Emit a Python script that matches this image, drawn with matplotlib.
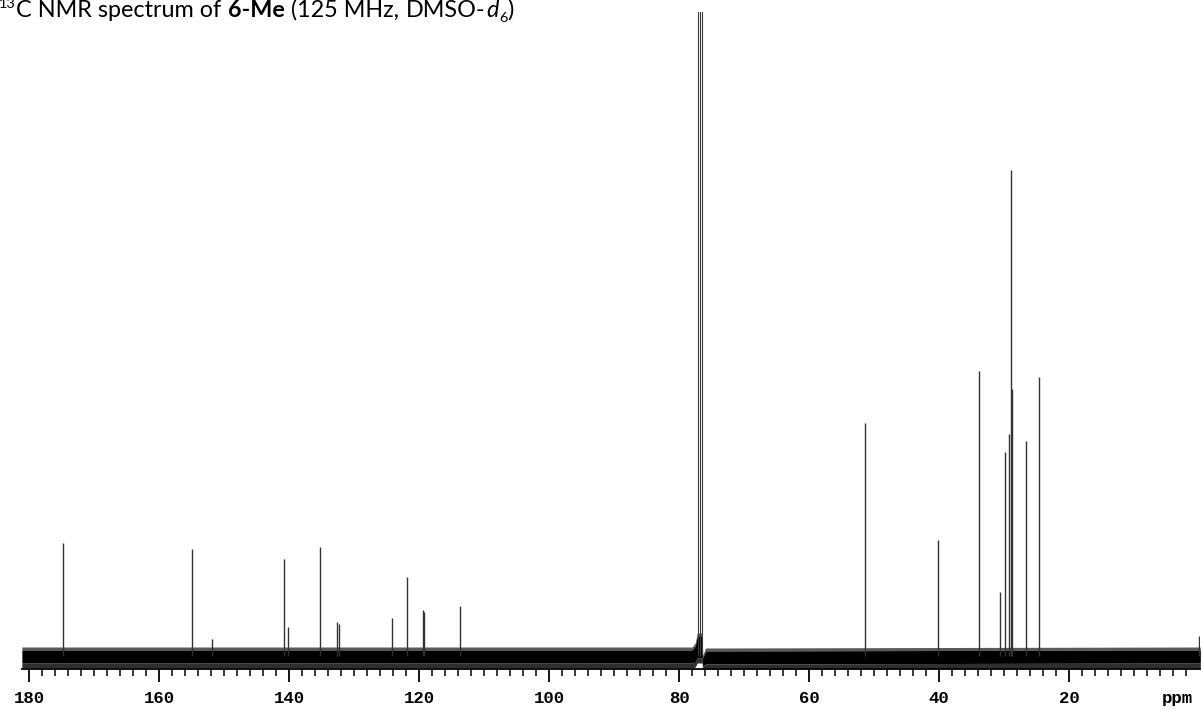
import matplotlib
matplotlib.use("Agg")
import matplotlib.pyplot as plt
import numpy as np

# ---------------- data ----------------
peak_ppm = [174.8, 154.9, 151.8, 140.8, 140.2, 135.2, 132.6, 132.3, 124.2,
            121.8, 119.4, 119.2, 113.7, 51.4, 40.2, 33.8, 30.6, 29.8, 29.3,
            29.0, 28.8, 26.6, 24.6, 0.0]
peak_height = [113, 107, 17, 97, 29, 109, 34, 32, 38,
               79, 46, 44, 50, 233, 116, 285, 64, 204, 222,
               486, 267, 215, 279, 20]
solvent_ppm = [77.1, 76.8, 76.5]
solvent_height = [1000, 1000, 1000]

# noise band envelope of the baseline
band_ppm = [181.1, 78.0, 77.5, 77.2, 76.45, 76.35, 75.9, -0.2]
band_hi = [6, 6, 10, 20, 20, -2, 5, 6]
band_lo = [-7, -7, -6, -2, -2, -10, -8, -7]

major_ticks = [180, 160, 140, 120, 100, 80, 60, 40, 20]
major_labels = ["180", "160", "140", "120", "100", "80", "60", "40", "20"]
minor_ticks = [v for v in range(2, 180, 2) if v % 20 != 0]

title_parts = [("13", "sup"), ("C NMR spectrum of", "normal"), (" ", "space"),
               ("6-Me", "bold"), (" ", "space"), ("(125 MHz,", "normal"),
               (" ", "space"), ("DMSO-", "normal"), ("d", "italic"),
               ("6", "sub"), (")", "normal")]

# ---------------- figure ----------------
W, H = 1203, 711
fig = plt.figure(figsize=(W / 100, H / 100), dpi=100)
fig.patch.set_facecolor("white")
ax = fig.add_axes([22 / W, 42 / H, (1200 - 22) / W, (669 - 12) / H])

ax.set_xlim(181.08, -0.15)
ax.set_ylim(-13, 644)

# baseline noise band
ax.fill_between(band_ppm, [v - 5 for v in band_lo], band_lo, color="#2e2e2e", lw=0)
ax.fill_between(band_ppm, band_hi, [v + 3 for v in band_hi], color="#5a5a5a", lw=0)
ax.fill_between(band_ppm, band_lo, band_hi, color="black", lw=0)

# peaks
ax.vlines(peak_ppm, 0, peak_height, color="#333333", lw=1.0)
ax.vlines(solvent_ppm, 0, solvent_height, color="#3a3a3a", lw=0.8)

for s in ["top", "left", "right"]:
    ax.spines[s].set_visible(False)
ax.spines["bottom"].set_linewidth(1.3)
ax.set_yticks([])
ax.set_xticks(major_ticks)
ax.set_xticklabels(major_labels)
ax.set_xticks(minor_ticks, minor=True)
ax.tick_params(axis="x", which="major", direction="out", length=9.5, width=1.3,
               pad=6.5, labelsize=12.5)
ax.tick_params(axis="x", which="minor", direction="out", length=5, width=1.1)
for lab in ax.get_xticklabels():
    lab.set_fontfamily("Liberation Mono")
    lab.set_fontweight("bold")

fig.text(1177 / W, 1 - 698 / H, "ppm", ha="center", va="center",
         fontfamily="Liberation Mono", fontweight="bold", fontsize=12.5)

# ---------------- title made of styled pieces ----------------
renderer = fig.canvas.get_renderer()
fs = 16.8
base_y = 17.0
x = -1.0
fam = "Lato"


def measure(txt, **kw):
    t = fig.text(0, 0, txt, **kw)
    w = t.get_window_extent(renderer).width
    t.remove()
    return w


space_w = measure("x x", fontfamily=fam, fontsize=fs) - measure("xx", fontfamily=fam, fontsize=fs)
for txt, kind in title_parts:
    if kind == "space":
        x += space_w
        continue
    kw = dict(fontfamily=fam, fontsize=fs, va="baseline", ha="left")
    y = base_y
    if kind == "bold":
        kw["fontweight"] = "bold"
    elif kind == "italic":
        kw["fontstyle"] = "italic"
    elif kind == "sup":
        kw["fontsize"] = fs * 0.62
        y = base_y - 9
    elif kind == "sub":
        kw["fontsize"] = fs * 0.62
        y = base_y + 5
    t = fig.text(x / W, 1 - y / H, txt, **kw)
    x += t.get_window_extent(renderer).width + 0.5

fig.savefig("out.png", dpi=100, facecolor="white")
